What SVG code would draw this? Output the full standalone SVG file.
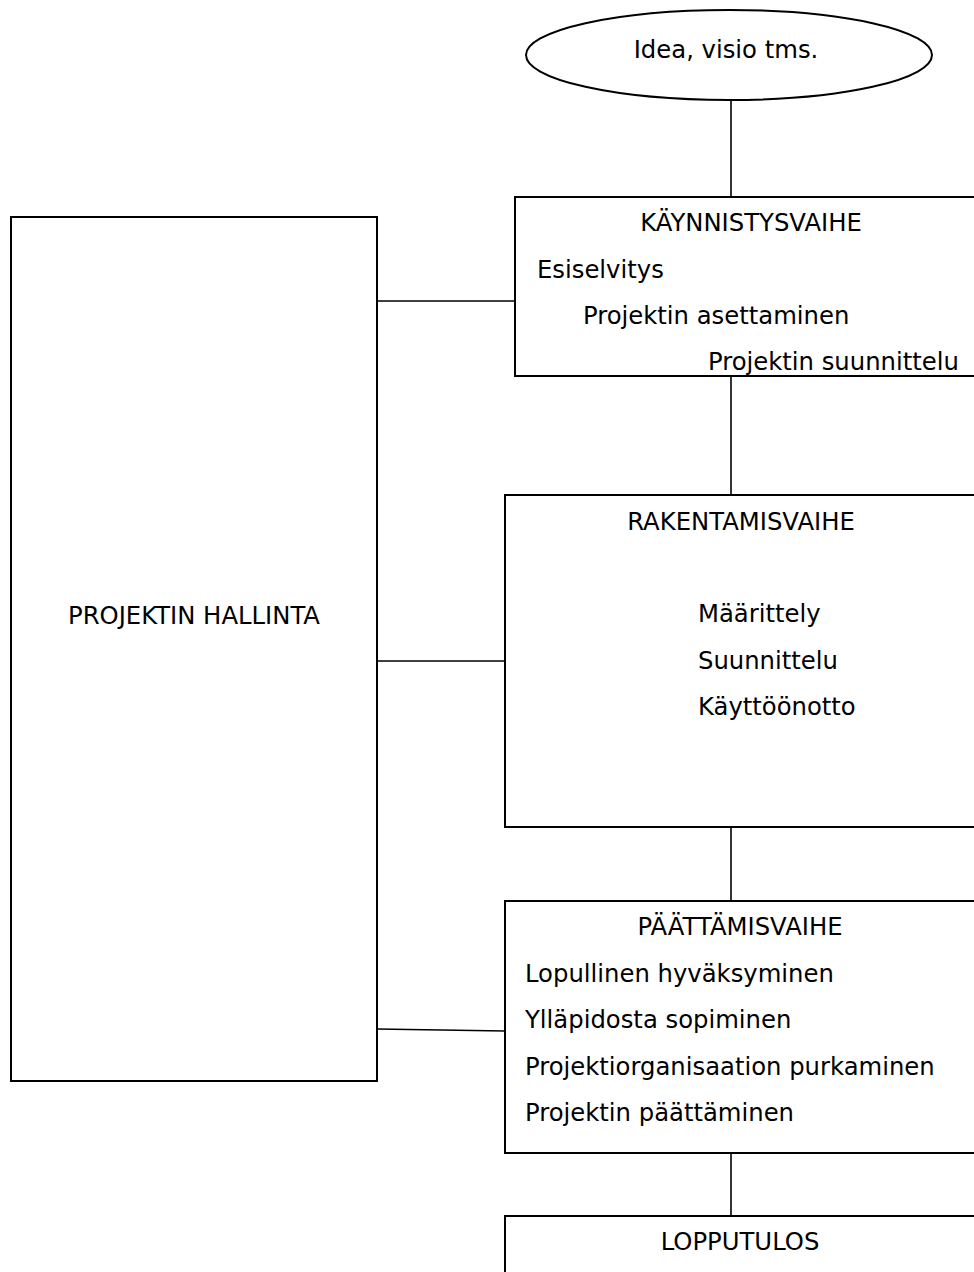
<svg xmlns="http://www.w3.org/2000/svg" width="974" height="1272" viewBox="0 0 974 1272">
<style>
.box{fill:#fff;stroke:#000;stroke-width:2}
.con{fill:none;stroke:#000;stroke-width:1.6}
text{font-family:"DejaVu Sans",Verdana,sans-serif;font-size:24.3px;fill:#000}
.mid{text-anchor:middle}
</style>
<rect width="974" height="1272" fill="#fff"/>
<g id="connectors">
<line class="con" x1="731" y1="100" x2="731" y2="197"/>
<line class="con" x1="731" y1="376" x2="731" y2="495"/>
<line class="con" x1="731" y1="827" x2="731" y2="901"/>
<line class="con" x1="731" y1="1153" x2="731" y2="1216"/>
<line class="con" x1="377" y1="301" x2="515" y2="301"/>
<line class="con" x1="377" y1="661" x2="505" y2="661"/>
<line class="con" x1="377" y1="1029" x2="505" y2="1031"/>
</g>
<g id="idea">
<ellipse class="box" cx="729" cy="55" rx="203" ry="45"/>
<text class="mid" x="726" y="58">Idea, visio tms.</text>
</g>
<g id="hallinta">
<rect class="box" x="11" y="217" width="366" height="864"/>
<text class="mid" x="194" y="624">PROJEKTIN HALLINTA</text>
</g>
<g id="kaynnistys">
<rect class="box" x="515" y="197" width="480" height="179"/>
<text class="mid" x="751" y="231">KÄYNNISTYSVAIHE</text>
<text x="537" y="278">Esiselvitys</text>
<text x="583" y="324">Projektin asettaminen</text>
<text x="708" y="370">Projektin suunnittelu</text>
</g>
<g id="rakentamis">
<rect class="box" x="505" y="495" width="490" height="332"/>
<text class="mid" x="741" y="530">RAKENTAMISVAIHE</text>
<text x="698" y="622">Määrittely</text>
<text x="698" y="669">Suunnittelu</text>
<text x="698" y="715">Käyttöönotto</text>
</g>
<g id="paattamis">
<rect class="box" x="505" y="901" width="490" height="252"/>
<text class="mid" x="740" y="935">PÄÄTTÄMISVAIHE</text>
<text x="525" y="982">Lopullinen hyväksyminen</text>
<text x="525" y="1028">Ylläpidosta sopiminen</text>
<text x="525" y="1075">Projektiorganisaation purkaminen</text>
<text x="525" y="1121">Projektin päättäminen</text>
</g>
<g id="lopputulos">
<rect class="box" x="505" y="1216" width="490" height="80"/>
<text class="mid" x="740" y="1250">LOPPUTULOS</text>
</g>
</svg>
